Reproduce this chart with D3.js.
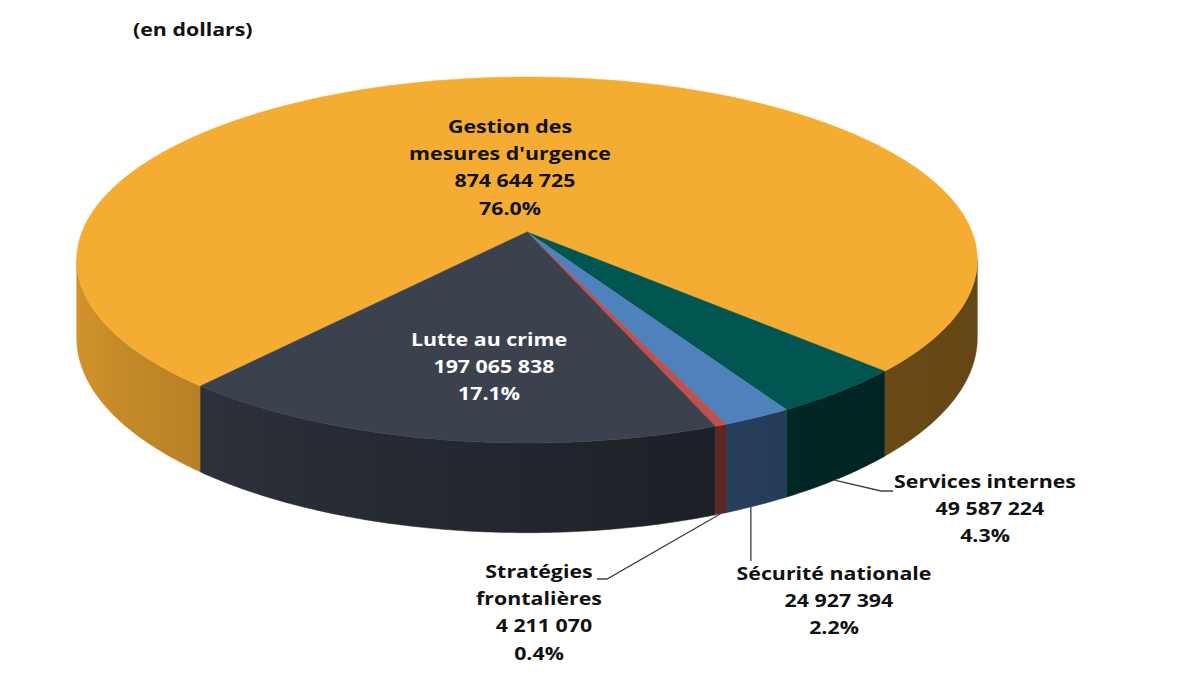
<!DOCTYPE html>
<html>
<head>
<meta charset="utf-8">
<script src="https://cdn.jsdelivr.net/npm/d3@7/dist/d3.min.js"></script>
<style>
  html, body { margin: 0; padding: 0; background: #fff; }
  svg { display: block; }
  text { font-family: "Open Sans", "Noto Sans", sans-serif; font-weight: 700; }
</style>
</head>
<body>
<svg id="chart" width="1178" height="679"></svg>
<script>
// ---- data ----
const categories = ["Gestion des mesures d'urgence", "Services internes", "Sécurité nationale", "Stratégies frontalières", "Lutte au crime"];
const values = [874644725, 49587224, 24927394, 4211070, 197065838];
const topColors = ["#F5AC32", "#005550", "#4F81BD", "#C0504D", "#3B424E"];
const labelLines = [
  ["Gestion des", "mesures d'urgence"],
  ["Services internes"],
  ["Sécurité nationale"],
  ["Stratégies", "frontalières"],
  ["Lutte au crime"]
];
const unitTitle = "(en dollars)";

// ---- geometry ----
const X0 = 527, Y0 = 232;     // projected centre of the top face
const AR = 445, BR = 178.7;   // horizontal / vertical radius factors
const K = 0.153;              // perspective factor
const DEPTH = 76;             // side height
const startDeg = 220.4;
const SX = 1.22;              // horizontal stretch of the text

const svg = d3.select("#chart");
const defs = svg.append("defs");
const total = d3.sum(values);
const locale = d3.formatLocale({ decimal: ".", thousands: " ", grouping: [3], currency: ["", "$"] });
const fmtNum = locale.format(",d");
const fmtPct = d3.format(".1%");

const pie = d3.pie().sort(null).value(d => d)
  .startAngle(startDeg * Math.PI / 180)
  .endAngle(startDeg * Math.PI / 180 + 2 * Math.PI);
const arcs = pie(values);

function proj(t, h, r = 1) {
  const c = Math.cos(t) * r, s = Math.sin(t) * r;
  const w = 1 + K * c;
  return [X0 + AR * s / w, Y0 - BR * c / w + DEPTH * h / w];
}
const line = d3.line();

function shadeFactor(t) {
  const a = t - 1.5 * Math.PI;
  return 0.41 + 0.45 * Math.pow((1 + Math.cos(a)) / 2, 1.5);
}
function shade(color, t) {
  const f = shadeFactor(t);
  const c = d3.rgb(color);
  return d3.rgb(c.r * f, c.g * f, c.b * f).toString();
}

// visible wall: silhouette where cos(t) = -K
const visA = Math.acos(-K), visB = 2 * Math.PI - Math.acos(-K);
function norm(t) { t = t % (2 * Math.PI); return t < 0 ? t + 2 * Math.PI : t; }

// ---- side walls ----
const gSide = svg.append("g");
let gid = 0;
arcs.forEach((a, i) => {
  // split the slice into periods and intersect with visible window
  const segs = [];
  for (let base = -2 * Math.PI; base <= 4 * Math.PI; base += 2 * Math.PI) {
    const lo = Math.max(a.startAngle, base + visA), hi = Math.min(a.endAngle, base + visB);
    if (hi > lo) segs.push([lo, hi]);
  }
  segs.forEach(([lo, hi]) => {
    const n = Math.max(4, Math.ceil((hi - lo) / 0.01));
    const topPts = [], botPts = [];
    for (let j = 0; j <= n; j++) {
      const t = lo + (hi - lo) * j / n;
      topPts.push(proj(t, 0));
      botPts.push(proj(t, 1));
    }
    const pts = topPts.concat(botPts.reverse());
    const xs = pts.map(p => p[0]);
    const xmin = d3.min(xs), xmax = d3.max(xs);
    const id = "g" + (gid++);
    const grad = defs.append("linearGradient").attr("id", id)
      .attr("gradientUnits", "userSpaceOnUse")
      .attr("x1", xmin).attr("x2", xmax).attr("y1", 0).attr("y2", 0);
    const m = 12;
    const stops = [];
    for (let j = 0; j <= m; j++) {
      const t = lo + (hi - lo) * j / m;
      const x = proj(t, 0)[0];
      stops.push({ o: xmax > xmin ? (x - xmin) / (xmax - xmin) : 0, c: shade(topColors[i], t) });
    }
    stops.sort((p, q) => p.o - q.o);
    stops.forEach(s => grad.append("stop").attr("offset", Math.max(0, Math.min(1, s.o))).attr("stop-color", s.c));
    gSide.append("path").attr("d", line(pts) + "Z").attr("fill", `url(#${id})`)
      .attr("stroke", shade(topColors[i], (lo + hi) / 2)).attr("stroke-width", 0.5);
  });
});

// ---- top faces ----
const gTop = svg.append("g");
arcs.forEach((a, i) => {
  const n = Math.max(2, Math.ceil((a.endAngle - a.startAngle) / 0.01));
  const pts = [proj(0, 0, 0)];
  for (let j = 0; j <= n; j++) pts.push(proj(a.startAngle + (a.endAngle - a.startAngle) * j / n, 0));
  gTop.append("path").attr("d", line(pts) + "Z").attr("fill", topColors[i])
    .attr("stroke", topColors[i]).attr("stroke-width", 0.6).attr("stroke-linejoin", "round");
});

// ---- title ----
svg.append("text").attr("transform", `translate(133,36) scale(${SX},1)`)
  .attr("font-size", 17.5).attr("fill", "#111").text(unitTitle);

// ---- labels ----
const labelPos = [
  { x: 510, y: 133, fill: "#111" },
  { x: 985, y: 488, fill: "#111" },
  { x: 834, y: 580, fill: "#111" },
  { x: 539, y: 578, fill: "#111" },
  { x: 489, y: 346, fill: "#fff" }
];
const LH = 27.2;
arcs.forEach((a, i) => {
  const lines = labelLines[i].concat([fmtNum(values[i]), fmtPct(values[i] / total)]);
  const p = labelPos[i];
  const t = svg.append("text").attr("transform", `translate(${p.x},${p.y}) scale(${SX},1)`)
    .attr("font-size", 17.5).attr("fill", p.fill).attr("text-anchor", "middle");
  lines.forEach((l, k) => {
    const isNum = k === lines.length - 2;
    t.append("tspan").attr("x", isNum ? 4 : 0).attr("y", k * LH).text(l);
  });
});

// ---- leader lines ----
function wallBottomAt(i, frac) {
  const a = arcs[i];
  return proj(a.startAngle + (a.endAngle - a.startAngle) * frac, 1);
}
const leaders = [
  () => { const s = wallBottomAt(1, 0.55); return [s, [881, 491], [893, 491]]; },
  () => { const s = wallBottomAt(2, 0.6); return [s, [s[0], 561]]; },
  () => { const s = wallBottomAt(3, 0.5); return [s, [607, 579], [597, 579]]; }
];
leaders.forEach(f => {
  svg.append("path").attr("d", line(f())).attr("fill", "none").attr("stroke", "#404040").attr("stroke-width", 1.3);
});
</script>
</body>
</html>
